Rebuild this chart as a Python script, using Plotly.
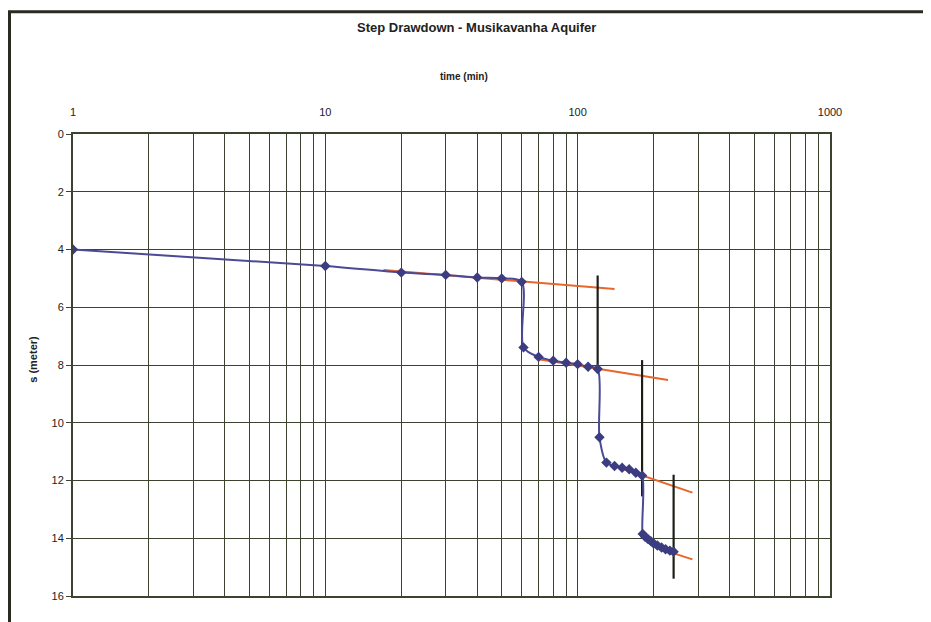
import plotly.graph_objects as go

# ---- data ----
time_min = [1, 10, 20, 30, 40, 50, 60,
            61, 70, 80, 90, 100, 110, 120,
            122, 130, 140, 150, 160, 170, 180,
            181, 185, 190, 195, 200, 207, 215, 223, 232, 240]
drawdown = [4.0, 4.57, 4.8, 4.88, 4.97, 5.0, 5.12,
            7.39, 7.72, 7.85, 7.92, 7.97, 8.06, 8.14,
            10.5, 11.38, 11.5, 11.56, 11.61, 11.73, 11.83,
            13.85, 13.95, 14.03, 14.1, 14.18, 14.25, 14.32, 14.38, 14.43, 14.47]

# fitted straight lines (semi-log) for each step
fit_t = [[17, 140], [70, 228], [130, 285], [200, 285]]
fit_s = [[4.71, 5.37], [7.8, 8.52], [11.4, 12.42], [14.3, 14.73]]

# vertical step markers
step_t = [120, 180, 240]
step_s_top = [4.9, 7.83, 11.8]
step_s_bot = [8.15, 12.55, 15.4]

y_ticks = [0, 2, 4, 6, 8, 10, 12, 14, 16]

# ---- figure ----
W, H = 931, 622
OFF = 8  # page body margin
L, R, T, B = 73 - OFF, 830 - OFF, 134 - OFF, 596.5 - OFF

def px_x(p):
    return (p - OFF - L) / (R - L)

def px_y(p):
    return (B - (p - OFF)) / (B - T)

grid_vals = []
grid_text = []
for dec in [1, 10, 100]:
    for k in range(1, 10):
        grid_vals.append(dec * k)
        grid_text.append(str(dec) if k == 1 else "")
grid_vals.append(1000)
grid_text.append("1000")

GRID = "#3b4230"
fig = go.Figure()

for ft, fs in zip(fit_t, fit_s):
    fig.add_trace(go.Scatter(x=ft, y=fs, mode="lines",
                             line=dict(color="#e8652c", width=2),
                             showlegend=False, hoverinfo="skip"))

for t, a, b in zip(step_t, step_s_top, step_s_bot):
    fig.add_trace(go.Scatter(x=[t, t], y=[a, b], mode="lines",
                             line=dict(color="#1c1f18", width=2.2),
                             showlegend=False, hoverinfo="skip"))

fig.add_trace(go.Scatter(x=time_min, y=drawdown, mode="lines+markers",
                         line=dict(color="#4a4a96", width=2, shape="spline", smoothing=0.8),
                         marker=dict(symbol="diamond", size=8, color="#3c3c80"),
                         showlegend=False))

fig.update_layout(
    width=W, height=H,
    margin=dict(l=L, r=W - R, t=T, b=H - B),
    paper_bgcolor="white", plot_bgcolor="white",
    font=dict(family="Liberation Sans, Arial, sans-serif", size=11, color="#222222"),
    xaxis=dict(type="log", range=[0, 3], side="top",
               tickvals=grid_vals, ticktext=grid_text, ticks="",
               ticklabelstandoff=12,
               showgrid=True, gridcolor=GRID, gridwidth=1.3,
               showline=True, linecolor=GRID, linewidth=2, mirror=True,
               zeroline=False, tickfont=dict(size=11)),
    yaxis=dict(range=[16, 0], tickvals=y_ticks,
               ticks="outside", ticklen=5, tickcolor=GRID, tickwidth=1,
               showgrid=True, gridcolor=GRID, gridwidth=1.3,
               showline=True, linecolor=GRID, linewidth=2, mirror=True,
               zeroline=False, tickfont=dict(size=11)),
    annotations=[
        dict(text="<b>Step Drawdown - Musikavanha Aquifer</b>", xref="paper", yref="paper",
             x=px_x(476), y=px_y(27), showarrow=False, font=dict(size=13),
             xanchor="center", yanchor="middle"),
        dict(text="<b>time (min)</b>", xref="paper", yref="paper",
             x=px_x(464), y=px_y(76), showarrow=False, font=dict(size=10),
             xanchor="center", yanchor="middle"),
        dict(text="<b>s (meter)</b>", xref="paper", yref="paper",
             x=px_x(33), y=px_y(360), showarrow=False, font=dict(size=11),
             textangle=-90, xanchor="center", yanchor="middle"),
    ],
    shapes=[
        dict(type="rect", xref="paper", yref="paper",
             x0=px_x(9.5), x1=px_x(960), y0=px_y(660), y1=px_y(11.5),
             line=dict(color="#2a2a22", width=3), fillcolor="rgba(0,0,0,0)",
             layer="below"),
    ],
)

fig.write_html("out.html")
